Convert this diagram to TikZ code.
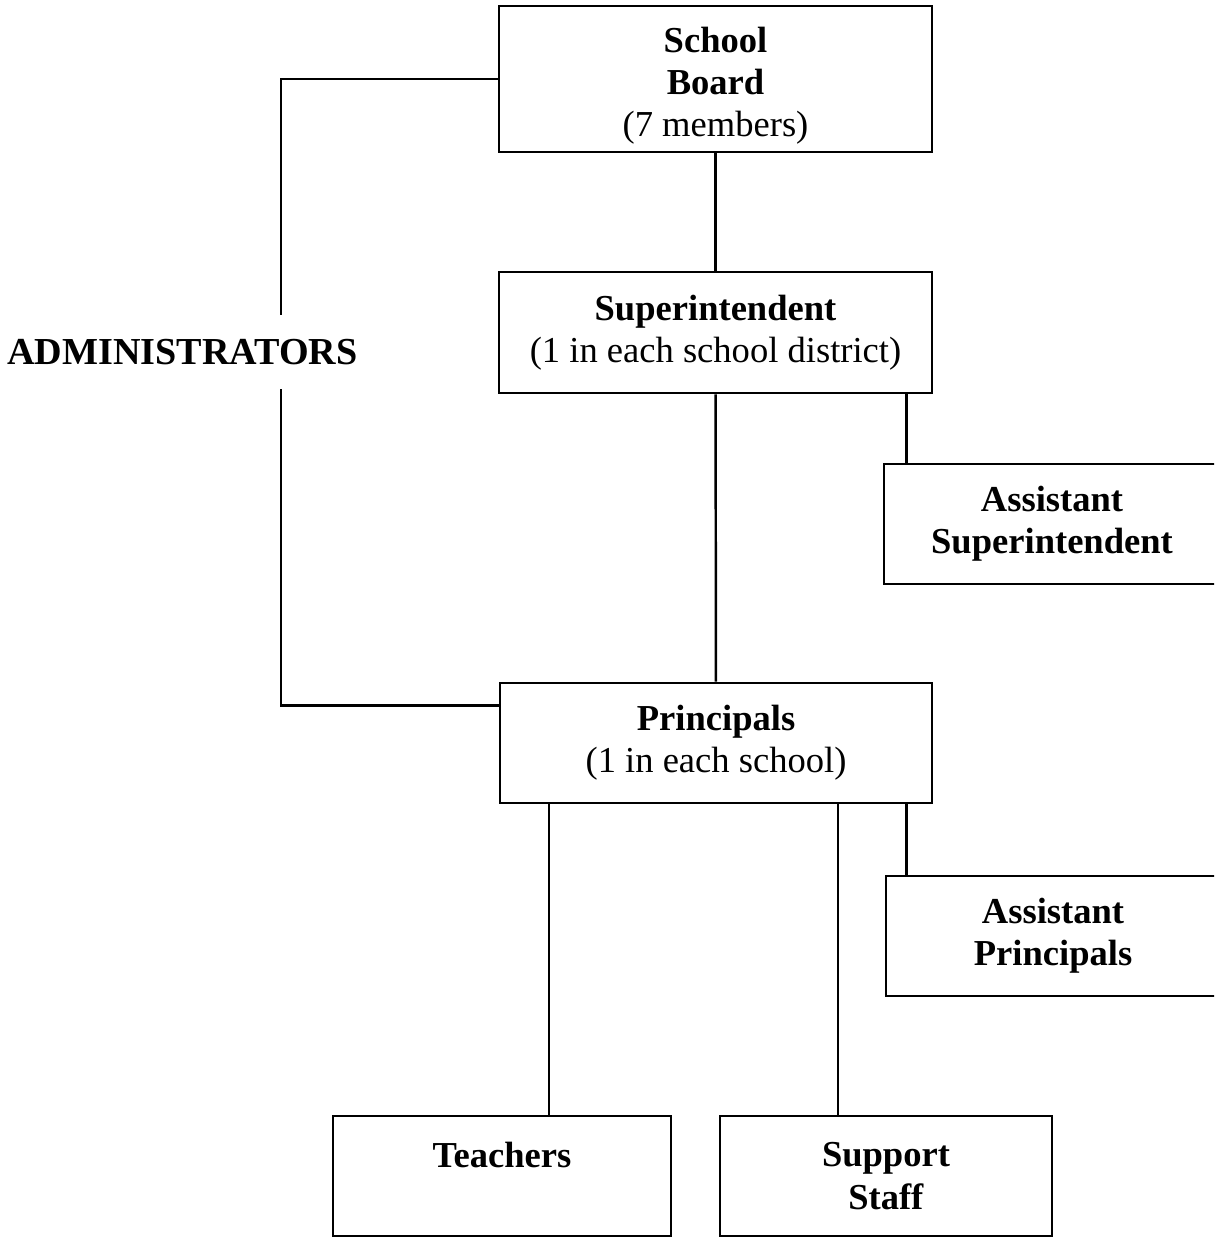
\documentclass[tikz,border=0pt]{standalone}
\usepackage{fontspec}
\setmainfont{Liberation Serif}

\begin{document}
\begin{tikzpicture}[
  x=0.1mm, y=-0.1mm,
  box/.style={draw, line width=0.75pt, minimum width=#1, minimum height=12mm,
              align=center, inner sep=0pt, font=\fontsize{10.4}{12}\selectfont},
  link/.style={line width=0.7pt}
]
  \clip (0,0) rectangle (1214,1238);

  \node[box=43.3mm, minimum height=14.6mm] (board) at (715.5,79)
    {\rule{0pt}{11pt}\textbf{School}\\\textbf{Board}\\(7 members)};
  \node[box=43.3mm, minimum height=12.1mm] (supt) at (715.5,332.5)
    {\textbf{Superintendent}\\(1 in each school district)};
  \node[box=33.6mm] (asupt) at (1052,524)
    {\textbf{Assistant}\\\textbf{Superintendent}};
  \node[box=43.2mm] (princ) at (716,743)
    {\textbf{Principals}\\(1 in each school)};
  \node[box=33.4mm] (aprinc) at (1053,936)
    {\textbf{Assistant}\\\textbf{Principals}};
  \node[box=33.8mm] (teach) at (502,1176)
    {\textbf{Teachers}\\\mbox{}};
  \node[box=33.2mm] (staff) at (886,1176)
    {\textbf{Support}\\\textbf{Staff}};
  \node[minimum height=7.3mm, inner sep=0pt, font=\fontsize{10.85}{12}\selectfont\bfseries]
    (admin) at (182.5,352) {ADMINISTRATORS};
  \coordinate (col) at (281,0);

  \draw[link] (board) -- (supt);
  \draw[link] (supt) -- (princ);
  \draw[link] ([xshift=2.4mm]asupt.north west) -- ([xshift=2.4mm]asupt.north west |- supt.south);
  \draw[link] ([xshift=2.2mm]aprinc.north west) -- ([xshift=2.2mm]aprinc.north west |- princ.south);
  \draw[link] ([xshift=4.7mm]teach.north) -- ([xshift=4.7mm]teach.north |- princ.south);
  \draw[link] ([xshift=-4.8mm]staff.north) -- ([xshift=-4.8mm]staff.north |- princ.south);
  \draw[link] (board.west) -| (col |- admin.north);
  \draw[link] (col |- admin.south) |- ([yshift=-2.4mm]princ.north west);
\end{tikzpicture}
\end{document}
